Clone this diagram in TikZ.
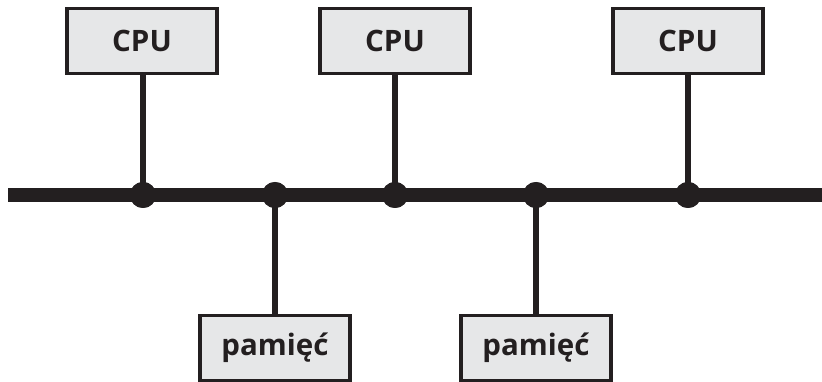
\documentclass[tikz,border=0pt]{standalone}
\usepackage{fontspec}
\setmainfont{Open Sans}
\definecolor{ink}{HTML}{231F20}
\definecolor{boxfill}{HTML}{E6E7E8}
\begin{document}
\begin{tikzpicture}[x=1pt,y=-1pt,
  unit/.style={draw=ink,line width=3.5pt,fill=boxfill,minimum width=150pt,minimum height=65pt,inner sep=0pt,font=\fontsize{29.5}{32}\selectfont\bfseries,text=ink},
  stem/.style={draw=ink,line width=5.5pt},
  bus/.style={draw=ink,line width=14pt},
  dot/.style={circle,fill=ink,minimum size=26pt,inner sep=0pt}]
\useasboundingbox (0,0) rectangle (822,382);
\coordinate (busL) at (8,195);
\coordinate (busR) at (822,195);
\node[dot] (d1) at (143,195) {};
\node[dot] (d2) at (275,195) {};
\node[dot] (d3) at (395,195) {};
\node[dot] (d4) at (536,195) {};
\node[dot] (d5) at (688,195) {};
\node[unit] (c1) at (142,41) {CPU};
\node[unit] (c2) at (395,41) {CPU};
\node[unit] (c3) at (688,41) {CPU};
\node[unit] (m1) at (275,348) {pamięć};
\node[unit] (m2) at (536,348) {pamięć};
\draw[stem] (c1.south -| d1) -- (d1.center);
\draw[stem] (c2.south) -- (d3.center);
\draw[stem] (c3.south) -- (d5.center);
\draw[stem] (m1.north) -- (d2.center);
\draw[stem] (m2.north) -- (d4.center);
\draw[bus] (busL) -- (busR);
\foreach \d in {d1,d2,d3,d4,d5} \node[dot] at (\d) {};
\end{tikzpicture}
\end{document}
